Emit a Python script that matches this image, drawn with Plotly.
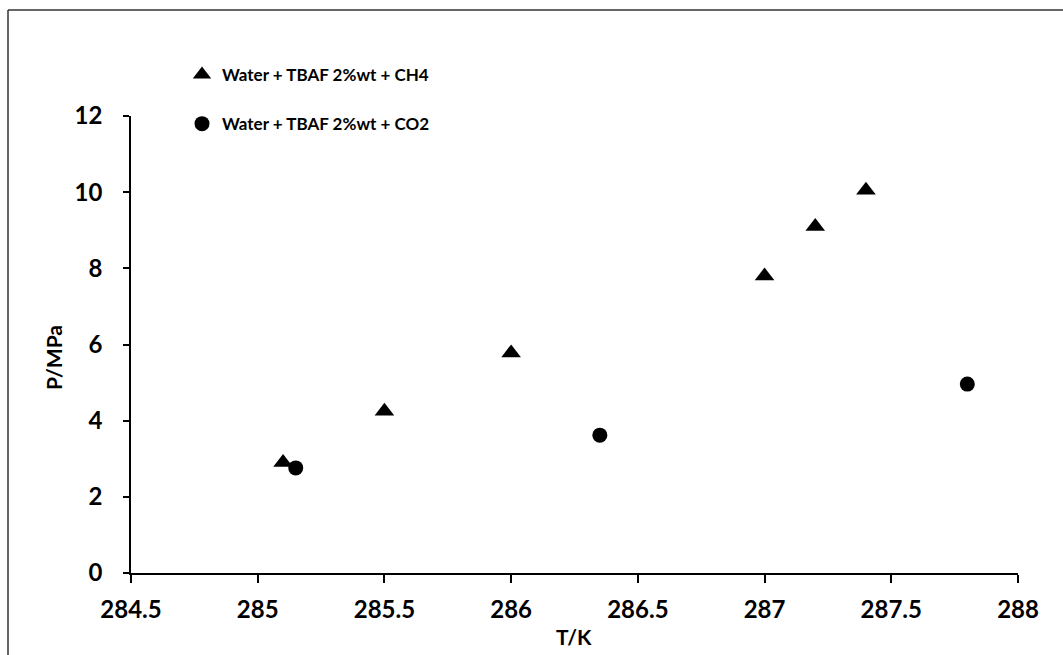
import plotly.graph_objects as go

# CH4 series
ch4_T = [285.1, 285.5, 286.0, 287.0, 287.2, 287.4]
ch4_P = [2.9, 4.25, 5.78, 7.8, 9.1, 10.05]
# CO2 series
co2_T = [285.15, 286.35, 287.8]
co2_P = [2.76, 3.62, 4.96]

x_ticks = [284.5, 285, 285.5, 286, 286.5, 287, 287.5, 288]
x_tick_labels = ["284.5", "285", "285.5", "286", "286.5", "287", "287.5", "288"]
y_ticks = [0, 2, 4, 6, 8, 10, 12]

FONT = "Lato"
L, R, T, B = 131, 45, 116, 82
W, H = 1063, 655
pw, ph = W - L - R, H - T - B

fig = go.Figure()
fig.add_trace(go.Scatter(
    x=ch4_T, y=ch4_P, mode="markers", name="Water + TBAF 2%wt + CH4",
    legendgroup="a",
    marker=dict(symbol="triangle-up", size=17, color="black"),
))
fig.add_trace(go.Scatter(
    x=co2_T, y=co2_P, mode="markers", name="Water + TBAF 2%wt + CO2",
    legendgroup="b",
    marker=dict(symbol="circle", size=15, color="black"),
))

axis_common = dict(
    showgrid=False, zeroline=False, showline=True, linecolor="black", linewidth=1.5,
    ticks="outside", tickcolor="black", tickwidth=1.5,
    tickfont=dict(family=FONT, size=24, color="black", weight="bold"),
)

fig.update_xaxes(
    range=[284.5, 288], tickvals=x_ticks, ticktext=x_tick_labels, ticklen=8,
    ticklabelstandoff=6,
    **axis_common,
)
fig.update_yaxes(
    range=[0, 12], tickvals=y_ticks, ticklen=6,
    ticklabelstandoff=16,
    **axis_common,
)

title_font = dict(family=FONT, size=21, color="black", weight="bold")
fig.add_annotation(text="T/K", xref="paper", yref="paper",
                   x=(574 - L) / pw, y=(H - B - 636) / ph,
                   xanchor="center", yanchor="middle", showarrow=False, font=title_font)
fig.add_annotation(text="P/MPa", xref="paper", yref="paper",
                   x=(53 - L) / pw, y=(H - B - 358) / ph, textangle=-90,
                   xanchor="center", yanchor="middle", showarrow=False, font=title_font)

# outer frame (top and left edges visible)
x_left = (8 - L) / pw
y_top = (H - B - 10) / ph
fig.add_shape(type="line", xref="paper", yref="paper", x0=x_left, x1=1.2, y0=y_top, y1=y_top,
              line=dict(color="#333333", width=1.5))
fig.add_shape(type="line", xref="paper", yref="paper", x0=x_left, x1=x_left, y0=y_top, y1=-0.3,
              line=dict(color="#333333", width=1.5))

fig.update_layout(
    width=W, height=H,
    margin=dict(l=L, r=R, t=T, b=B),
    paper_bgcolor="white", plot_bgcolor="white",
    showlegend=True,
    legend=dict(
        x=(182 - L) / pw, y=(H - B - 57) / ph, xanchor="left", yanchor="top",
        font=dict(family=FONT, size=17, color="black", weight="bold"),
        bgcolor="rgba(0,0,0,0)", traceorder="grouped", tracegroupgap=24,
        itemwidth=30,
    ),
)

fig.write_html("out.html")
